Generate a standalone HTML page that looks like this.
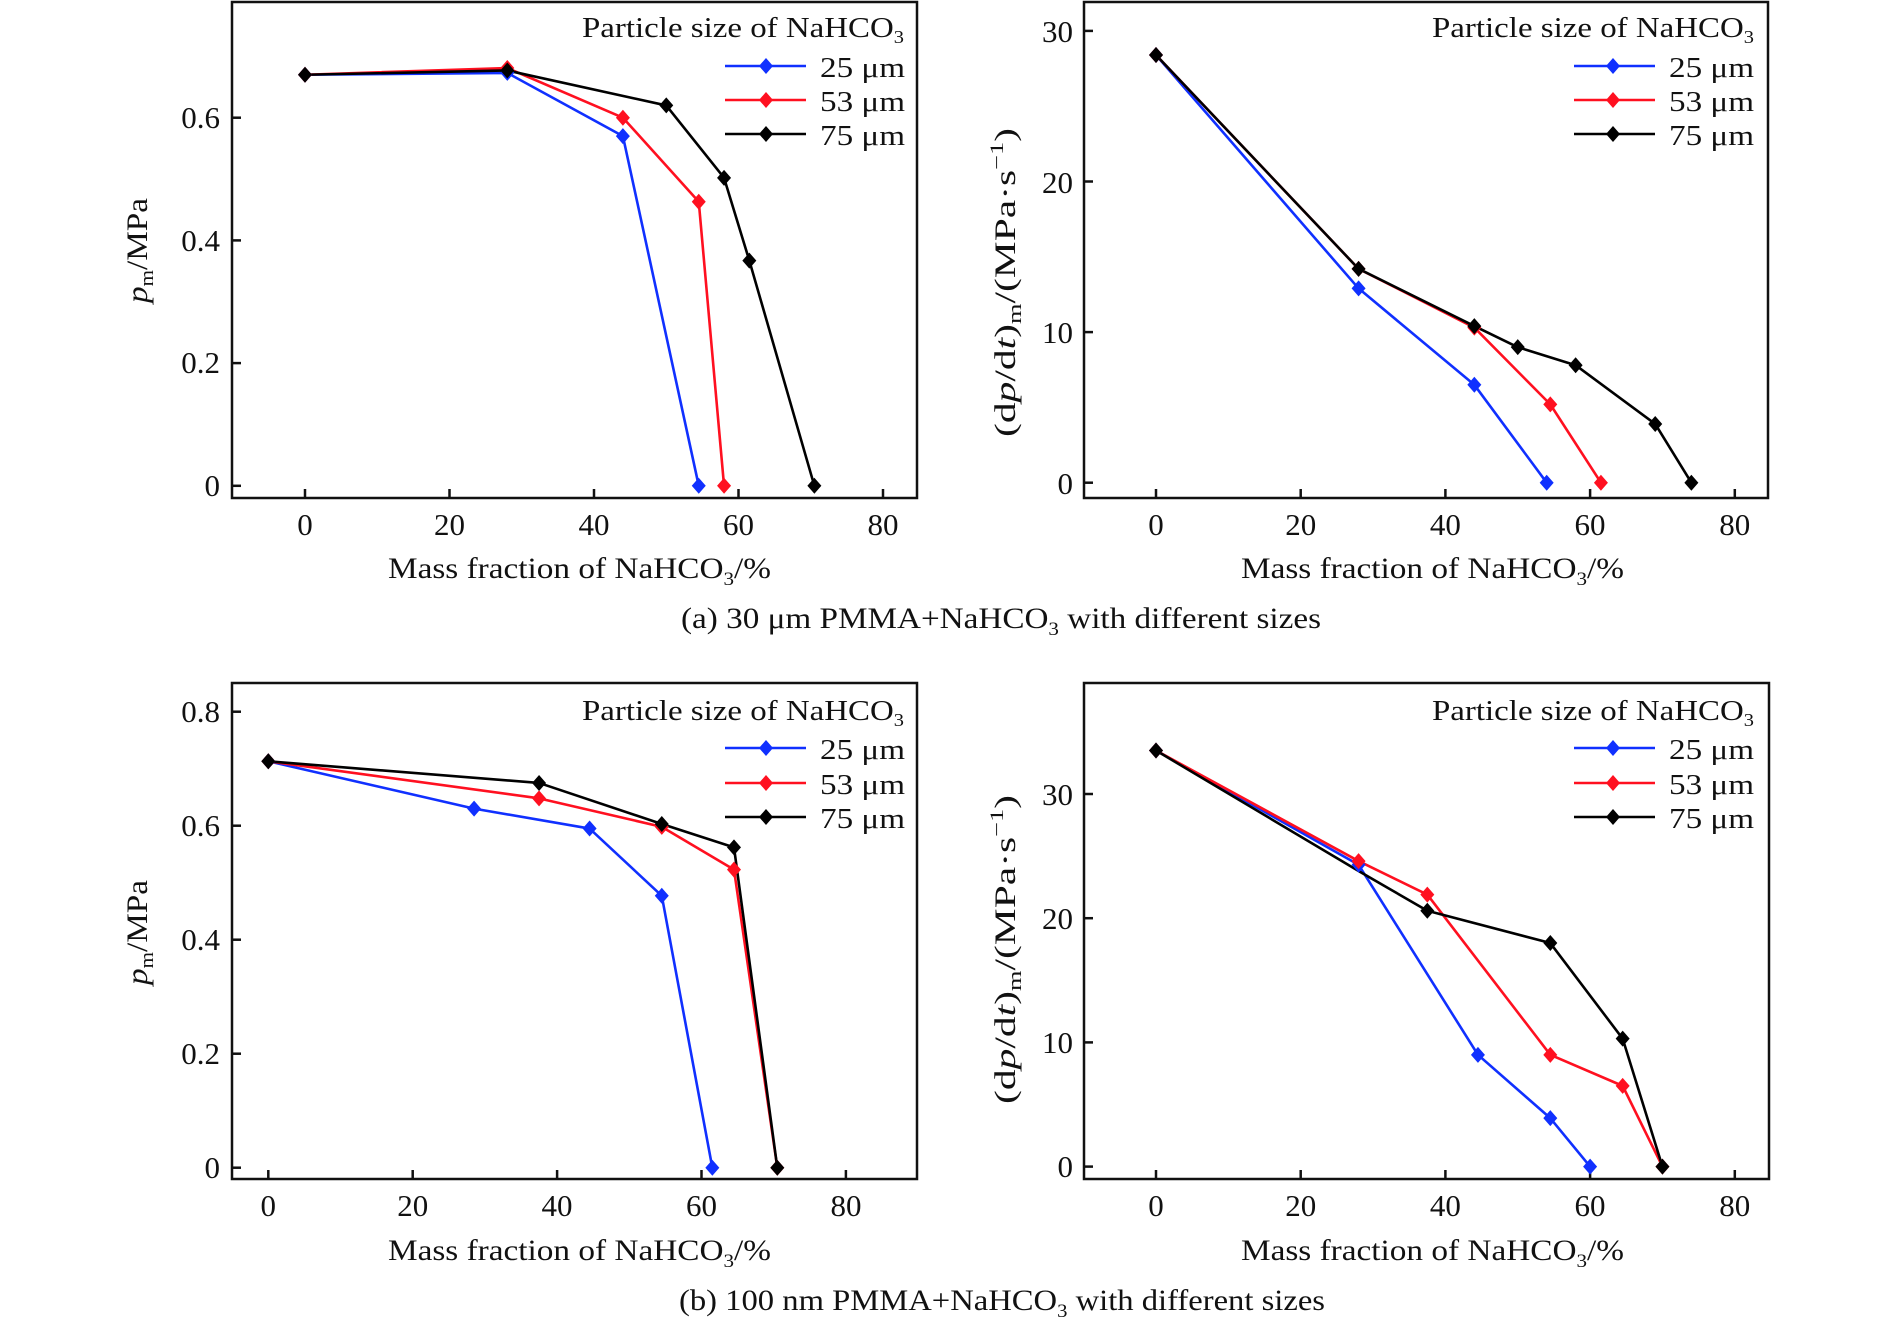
<!DOCTYPE html>
<html><head><meta charset="utf-8">
<style>
html,body{margin:0;padding:0;background:#fff;}
svg{display:block;}
text{font-family:"Liberation Serif","DejaVu Serif",serif;fill:#111;}
.t{font-size:31px;}
.a{font-size:30px;}
.l{font-size:29px;}
</style></head>
<body>
<svg id="s" width="1890" height="1327" viewBox="0 0 1890 1327" xmlns="http://www.w3.org/2000/svg">
<g fill="none" stroke="#111" stroke-width="2.5">
<rect x="232" y="2" width="685" height="496"/>
<rect x="1084" y="2" width="684" height="496"/>
<rect x="232" y="683" width="685" height="496"/>
<rect x="1084" y="683" width="685" height="496"/>
</g>
<g id="ticks" stroke="#111" stroke-width="2.5"></g>
<g id="series"></g>

<g class="t" text-anchor="end">
<text x="220" y="128">0.6</text><text x="220" y="251">0.4</text><text x="220" y="373">0.2</text><text x="220" y="496">0</text>
<text x="1073" y="42">30</text><text x="1073" y="193">20</text><text x="1073" y="343">10</text><text x="1073" y="494">0</text>
<text x="220" y="722">0.8</text><text x="220" y="836">0.6</text><text x="220" y="950">0.4</text><text x="220" y="1064">0.2</text><text x="220" y="1178">0</text>
<text x="1073" y="805">30</text><text x="1073" y="929">20</text><text x="1073" y="1053">10</text><text x="1073" y="1177">0</text>
</g>
<g class="t" text-anchor="middle">
<text x="305" y="535">0</text><text x="449.5" y="535">20</text><text x="594" y="535">40</text><text x="738.5" y="535">60</text><text x="883" y="535">80</text>
<text x="1156" y="535">0</text><text x="1300.7" y="535">20</text><text x="1445.4" y="535">40</text><text x="1590" y="535">60</text><text x="1734.8" y="535">80</text>
<text x="268.3" y="1216">0</text><text x="412.7" y="1216">20</text><text x="557" y="1216">40</text><text x="701.5" y="1216">60</text><text x="846" y="1216">80</text>
<text x="1156" y="1216">0</text><text x="1300.7" y="1216">20</text><text x="1445.4" y="1216">40</text><text x="1590" y="1216">60</text><text x="1734.8" y="1216">80</text>
</g>

<g class="a">
<text x="388" y="578" textLength="383" lengthAdjust="spacingAndGlyphs">Mass fraction of NaHCO<tspan font-size="19" dy="7">3</tspan><tspan dy="-7">/%</tspan></text>
<text x="1241" y="578" textLength="383" lengthAdjust="spacingAndGlyphs">Mass fraction of NaHCO<tspan font-size="19" dy="7">3</tspan><tspan dy="-7">/%</tspan></text>
<text x="388" y="1260" textLength="383" lengthAdjust="spacingAndGlyphs">Mass fraction of NaHCO<tspan font-size="19" dy="7">3</tspan><tspan dy="-7">/%</tspan></text>
<text x="1241" y="1260" textLength="383" lengthAdjust="spacingAndGlyphs">Mass fraction of NaHCO<tspan font-size="19" dy="7">3</tspan><tspan dy="-7">/%</tspan></text>
<text x="681" y="628" textLength="640" lengthAdjust="spacingAndGlyphs">(a) 30 μm PMMA+NaHCO<tspan font-size="19" dy="7">3</tspan><tspan dy="-7"> with different sizes</tspan></text>
<text x="679" y="1310" textLength="646" lengthAdjust="spacingAndGlyphs">(b) 100 nm PMMA+NaHCO<tspan font-size="19" dy="7">3</tspan><tspan dy="-7"> with different sizes</tspan></text>

<text transform="translate(147,303) rotate(-90)" textLength="105" lengthAdjust="spacingAndGlyphs"><tspan font-style="italic">p</tspan><tspan font-size="19" dy="6">m</tspan><tspan dy="-6">/MPa</tspan></text>
<text transform="translate(147,985) rotate(-90)" textLength="105" lengthAdjust="spacingAndGlyphs"><tspan font-style="italic">p</tspan><tspan font-size="19" dy="6">m</tspan><tspan dy="-6">/MPa</tspan></text>
<text transform="translate(1015,437) rotate(-90)" textLength="309" lengthAdjust="spacingAndGlyphs">(d<tspan font-style="italic">p</tspan>/d<tspan font-style="italic">t</tspan>)<tspan font-size="19" dy="6">m</tspan><tspan dy="-6">/(MPa·s</tspan><tspan font-size="19" dy="-12">−1</tspan><tspan dy="12">)</tspan></text>
<text transform="translate(1015,1104) rotate(-90)" textLength="309" lengthAdjust="spacingAndGlyphs">(d<tspan font-style="italic">p</tspan>/d<tspan font-style="italic">t</tspan>)<tspan font-size="19" dy="6">m</tspan><tspan dy="-6">/(MPa·s</tspan><tspan font-size="19" dy="-12">−1</tspan><tspan dy="12">)</tspan></text>
</g>

<g class="l">
<text x="582" y="37" textLength="322" lengthAdjust="spacingAndGlyphs">Particle size of NaHCO<tspan font-size="18" dy="6">3</tspan></text>
<text x="820" y="77" textLength="85" lengthAdjust="spacingAndGlyphs">25 μm</text>
<text x="820" y="111" textLength="85" lengthAdjust="spacingAndGlyphs">53 μm</text>
<text x="820" y="145" textLength="85" lengthAdjust="spacingAndGlyphs">75 μm</text>
<text x="1432" y="37" textLength="322" lengthAdjust="spacingAndGlyphs">Particle size of NaHCO<tspan font-size="18" dy="6">3</tspan></text>
<text x="1669" y="77" textLength="85" lengthAdjust="spacingAndGlyphs">25 μm</text>
<text x="1669" y="111" textLength="85" lengthAdjust="spacingAndGlyphs">53 μm</text>
<text x="1669" y="145" textLength="85" lengthAdjust="spacingAndGlyphs">75 μm</text>
<text x="582" y="720" textLength="322" lengthAdjust="spacingAndGlyphs">Particle size of NaHCO<tspan font-size="18" dy="6">3</tspan></text>
<text x="820" y="759" textLength="85" lengthAdjust="spacingAndGlyphs">25 μm</text>
<text x="820" y="794" textLength="85" lengthAdjust="spacingAndGlyphs">53 μm</text>
<text x="820" y="828" textLength="85" lengthAdjust="spacingAndGlyphs">75 μm</text>
<text x="1432" y="720" textLength="322" lengthAdjust="spacingAndGlyphs">Particle size of NaHCO<tspan font-size="18" dy="6">3</tspan></text>
<text x="1669" y="759" textLength="85" lengthAdjust="spacingAndGlyphs">25 μm</text>
<text x="1669" y="794" textLength="85" lengthAdjust="spacingAndGlyphs">53 μm</text>
<text x="1669" y="828" textLength="85" lengthAdjust="spacingAndGlyphs">75 μm</text>
</g>
</svg>
<script>
(function(){
var NS="http://www.w3.org/2000/svg";
var ticks=document.getElementById("ticks"), ser=document.getElementById("series");
function el(p,n,a){var e=document.createElementNS(NS,n);for(var k in a)e.setAttribute(k,a[k]);p.appendChild(e);return e;}
var P=[
 {x0:305,sx:7.225,y0:485.8,sy:613.5,L:232,B:498,yt:[0,0.2,0.4,0.6],lx:725,lm:766,ly:[66,100,134],
  d:[[[0,0.67],[28,0.673],[44,0.57],[54.5,0]],
     [[0,0.67],[28,0.681],[44,0.6],[54.5,0.463],[58,0]],
     [[0,0.67],[28,0.677],[50,0.62],[58,0.502],[61.5,0.367],[70.5,0]]]},
 {x0:1156,sx:7.235,y0:482.7,sy:15.06,L:1084,B:498,yt:[0,10,20,30],lx:1574,lm:1613,ly:[66,100,134],
  d:[[[0,28.4],[28,12.9],[44,6.5],[54,0]],
     [[0,28.4],[28,14.2],[44,10.3],[54.5,5.2],[61.5,0]],
     [[0,28.4],[28,14.2],[44,10.4],[50,9],[58,7.8],[69,3.9],[74,0]]]},
 {x0:268.3,sx:7.22,y0:1167.7,sy:570,L:232,B:1179,yt:[0,0.2,0.4,0.6,0.8],lx:725,lm:766,ly:[748,783,817],
  d:[[[0,0.713],[28.5,0.63],[44.5,0.595],[54.5,0.477],[61.5,0]],
     [[0,0.713],[37.5,0.648],[54.5,0.598],[64.5,0.523],[70.5,0]],
     [[0,0.713],[37.5,0.675],[54.5,0.603],[64.5,0.562],[70.5,0]]]},
 {x0:1156,sx:7.235,y0:1166.6,sy:12.42,L:1084,B:1179,yt:[0,10,20,30],lx:1574,lm:1613,ly:[748,783,817],
  d:[[[0,33.5],[28,24.3],[44.5,9],[54.5,3.9],[60,0]],
     [[0,33.5],[28,24.6],[37.5,21.9],[54.5,9],[64.5,6.5],[70,0]],
     [[0,33.5],[28,23.8,1],[37.5,20.6],[54.5,18],[64.5,10.3],[70,0]]]}
];
var C=["#1030ff","#ff1020","#000"];
function dia(x,y,c){el(ser,"polygon",{points:(x)+","+(y-8)+" "+(x+7)+","+y+" "+x+","+(y+8)+" "+(x-7)+","+y,fill:c});}
P.forEach(function(p){
 for(var v=0;v<=80;v+=20){var x=p.x0+p.sx*v;el(ticks,"line",{x1:x,x2:x,y1:p.B,y2:p.B-9});}
 p.yt.forEach(function(v){var y=p.y0-p.sy*v;el(ticks,"line",{x1:p.L,x2:p.L+9,y1:y,y2:y});});
 p.d.forEach(function(s,i){
  var pts=s.map(function(q){return (p.x0+p.sx*q[0])+","+(p.y0-p.sy*q[1]);}).join(" ");
  el(ser,"polyline",{points:pts,fill:"none",stroke:C[i],"stroke-width":2.6,"stroke-linejoin":"round"});
 });
 p.d.forEach(function(s,i){
  s.forEach(function(q){if(!q[2])dia(p.x0+p.sx*q[0],p.y0-p.sy*q[1],C[i]);});
  el(ser,"line",{x1:p.lx,x2:p.lx+81,y1:p.ly[i],y2:p.ly[i],stroke:C[i],"stroke-width":2.6});
  dia(p.lm,p.ly[i],C[i]);
 });
});
})();
</script>
</body></html>
